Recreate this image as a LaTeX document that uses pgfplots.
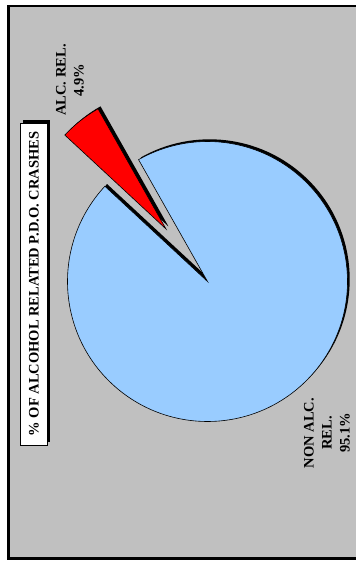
\documentclass[border=0pt]{standalone}
\usepackage{pgfplots}
\pgfplotsset{compat=1.18}
\usepackage{pgfplotstable}
\usepackage{fontspec}
\setmainfont{Liberation Serif}

\definecolor{panelgray}{HTML}{C0C0C0}
\definecolor{nonalc}{HTML}{99CCFF}
\definecolor{alc}{HTML}{FF0000}

% share of P.D.O. crashes, in percent
\pgfplotstableread{
share value
alc 4.9
nonalc 95.1
}\crashshares

\begin{document}
\begin{tikzpicture}
\pgfplotstablegetelem{0}{value}\of\crashshares \let\alcval\pgfplotsretval
\pgfplotstablegetelem{1}{value}\of\crashshares \let\nonval\pgfplotsretval
\pgfmathsetmacro{\startang}{119.5}
\pgfmathsetmacro{\alcend}{\startang+3.6*\alcval}
\pgfmathsetmacro{\nonend}{\alcend+3.6*\nonval}
\pgfmathsetmacro{\midang}{(\startang+\alcend)/2}
\def\cx{207.5}\def\cy{279.5}
\begin{axis}[at={(0,0)}, anchor=south west, scale only axis,
  width=356bp, height=561bp, xmin=0, xmax=356, ymin=0, ymax=561,
  hide axis, clip=false]
  % page and panel
  \fill[white] (axis cs:0,0) rectangle (axis cs:356,561);
  \filldraw[fill=panelgray, draw=black, line width=2.6bp]
    (axis cs:8.5,2.5) rectangle (axis cs:358,555);
  % non-alcohol slice: shadow, then face
  \fill[black] ([shift={(2.2bp,2.2bp)}]axis cs:\cx,\cy) -- ++(\alcend:140bp)
    arc[start angle=\alcend, end angle=\nonend, radius=140bp] -- cycle;
  \filldraw[fill=nonalc, draw=black, line width=0.6bp] (axis cs:\cx,\cy) -- ++(\alcend:140bp)
    arc[start angle=\alcend, end angle=\nonend, radius=140bp] -- cycle;
  % alcohol-related slice, pulled out
  \fill[black] ([shift={(\midang:67bp)}, shift={(2.5bp,2.5bp)}]axis cs:\cx,\cy) -- ++(\startang:138bp)
    arc[start angle=\startang, end angle=\alcend, radius=138bp] -- cycle;
  \filldraw[fill=alc, draw=black, line width=0.6bp] ([shift={(\midang:67bp)}]axis cs:\cx,\cy) -- ++(\startang:138bp)
    arc[start angle=\startang, end angle=\alcend, radius=138bp] -- cycle;
  % slice labels
  \node[rotate=90, align=center, inner sep=0pt, font=\bfseries\fontsize{14.5bp}{18bp}\selectfont]
    at (axis cs:70,481) {ALC. REL.\\4.9\%};
  \node[rotate=90, align=center, inner sep=0pt, font=\bfseries\fontsize{14.5bp}{18bp}\selectfont]
    at (axis cs:327,128) {NON ALC.\\REL.\\95.1\%};
  % title box
  \fill[black] (axis cs:22.5,118.5) rectangle (axis cs:50,441);
  \filldraw[fill=white, draw=black, line width=0.6bp] (axis cs:20,116) rectangle (axis cs:47,438);
  \node[rotate=90, inner sep=0pt, font=\bfseries\fontsize{14.5bp}{18bp}\selectfont]
    at (axis cs:34,277) {\% OF ALCOHOL RELATED P.D.O. CRASHES};
\end{axis}
\pgfresetboundingbox
\useasboundingbox (0,0) rectangle (356bp,561bp);
\end{tikzpicture}
\end{document}
